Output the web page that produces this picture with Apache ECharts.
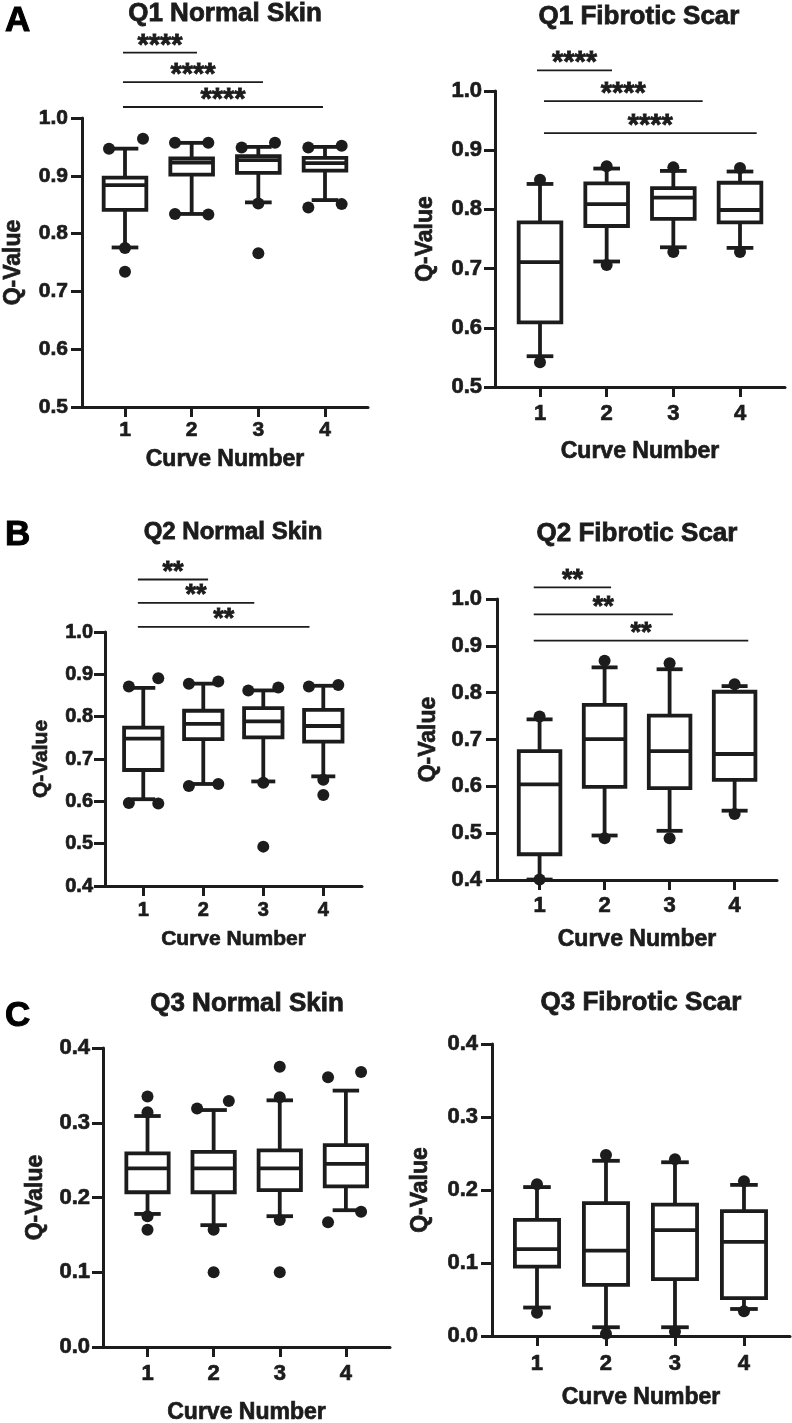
<!DOCTYPE html>
<html><head><meta charset="utf-8">
<script src="https://cdn.jsdelivr.net/npm/echarts@6/dist/echarts.min.js"></script>
<style>html,body{margin:0;padding:0;background:#fff}#c{width:792px;height:1423px}</style>
</head><body><div id="c"></div>
<script>
// ---------- DATA ----------
const curveNumbers = [1, 2, 3, 4];
// box rows: [curve, lowerWhisker, Q1, median, Q3, upperWhisker]
const q1NormalBoxes = [
  [1, 0.776, 0.841, 0.884, 0.897, 0.947],
  [2, 0.834, 0.902, 0.923, 0.930, 0.957],
  [3, 0.854, 0.905, 0.927, 0.934, 0.950],
  [4, 0.858, 0.909, 0.922, 0.931, 0.950]
];
const q1NormalDots = [[0.76,0.947],[1.27,0.964],[1,0.775],[1,0.734],[1.75,0.957],[2.25,0.957],[1.75,0.834],[2.25,0.833],
  [2.75,0.949],[3.25,0.957],[3,0.852],[3,0.766],[3.75,0.949],[4.25,0.952],[3.75,0.845],[4.25,0.851]];
const q1NormalSig = [[0.97,2.08,1.113],[0.97,3.07,1.062],[0.97,3.97,1.019]];
const q1NormalStars = ['****','****','****'];

const q1ScarBoxes = [
  [1, 0.552, 0.609, 0.711, 0.778, 0.843],
  [2, 0.712, 0.772, 0.809, 0.844, 0.869],
  [3, 0.736, 0.784, 0.820, 0.836, 0.865],
  [4, 0.735, 0.778, 0.799, 0.845, 0.864]
];
const q1ScarDots = [[1,0.850],[1,0.542],[2,0.873],[2,0.706],[3,0.871],[3,0.728],[4,0.870],[4,0.728]];
const q1ScarSig = [[0.955,2.08,1.035],[1.06,3.44,0.983],[1.06,4.25,0.929]];
const q1ScarStars = ['****','****','****'];

const q2NormalBoxes = [
  [1, 0.605, 0.674, 0.748, 0.774, 0.868],
  [2, 0.641, 0.747, 0.783, 0.814, 0.878],
  [3, 0.647, 0.751, 0.789, 0.820, 0.862],
  [4, 0.659, 0.741, 0.778, 0.816, 0.873]
];
const q2NormalDots = [[0.76,0.871],[1.25,0.891],[0.76,0.596],[1.25,0.595],[1.76,0.878],[2.25,0.883],[1.76,0.636],[2.25,0.641],
  [2.75,0.862],[3.25,0.869],[3,0.644],[3,0.493],[3.76,0.871],[4.25,0.875],[4,0.651],[4,0.615]];
const q2NormalSig = [[0.91,2.08,1.124],[0.91,2.85,1.069],[0.91,3.77,1.012]];
const q2NormalStars = ['**','**','**'];

const q2ScarBoxes = [
  [1, 0.401, 0.455, 0.604, 0.675, 0.743],
  [2, 0.495, 0.599, 0.701, 0.774, 0.854],
  [3, 0.505, 0.596, 0.675, 0.751, 0.850],
  [4, 0.548, 0.614, 0.669, 0.802, 0.814]
];
const q2ScarDots = [[1,0.749],[1,0.401],[2,0.868],[2,0.489],[3,0.863],[3,0.489],[4,0.818],[4,0.541]];
const q2ScarSig = [[0.91,2.10,1.025],[0.91,3.05,0.967],[0.91,4.21,0.911]];
const q2ScarStars = ['**','**','**'];

const q3NormalBoxes = [
  [1, 0.178, 0.207, 0.239, 0.259, 0.309],
  [2, 0.163, 0.207, 0.239, 0.261, 0.317],
  [3, 0.175, 0.210, 0.239, 0.263, 0.330],
  [4, 0.183, 0.215, 0.245, 0.270, 0.343]
];
const q3NormalDots = [[1,0.314],[1,0.335],[1,0.175],[1,0.157],[1.75,0.319],[2.23,0.329],[2,0.157],[2,0.100],
  [3,0.334],[3,0.375],[3,0.170],[3,0.100],[3.73,0.361],[4.23,0.368],[3.73,0.167],[4.23,0.181]];

const q3ScarBoxes = [
  [1, 0.039, 0.095, 0.119, 0.159, 0.204],
  [2, 0.012, 0.070, 0.117, 0.182, 0.240],
  [3, 0.012, 0.078, 0.145, 0.180, 0.238],
  [4, 0.037, 0.052, 0.129, 0.171, 0.207]
];
const q3ScarDots = [[1,0.208],[1,0.032],[2,0.248],[2,0.003],[3,0.242],[3,0.006],[4,0.212],[4,0.034]];

const panelTitles = ['Q1 Normal Skin','Q1 Fibrotic Scar','Q2 Normal Skin','Q2 Fibrotic Scar','Q3 Normal Skin','Q3 Fibrotic Scar'];
const panelLetters = ['A','B','C'];
const xAxisTitle = 'Curve Number';
const yAxisTitle = 'Q-Value';

// ---------- LAYOUT ----------
const INK = '#1c1c1c';
const FONT = '"Liberation Sans", Arial, Helvetica, sans-serif';
const HEAVY = {textBorderColor: INK, textBorderWidth: 0.7};
const panels = [
  {boxes:q1NormalBoxes, dots:q1NormalDots, sig:q1NormalSig, stars:q1NormalStars, starSize:29,
   grid:{left:82,top:118,width:286,height:289}, x:[0.355,4.645], y:[0.5,1.0],
   title:[225,14,26], yGap:57, xGap:41, nameSize:23, labelSize:21, xMargin:13, yMargin:14},
  {boxes:q1ScarBoxes, dots:q1ScarDots, sig:q1ScarSig, stars:q1ScarStars, starSize:29,
   grid:{left:495,top:91,width:290,height:296}, x:[0.325,4.675], y:[0.5,1.0],
   title:[639,17,26], yGap:58, xGap:53, nameSize:23, labelSize:22, xMargin:16, yMargin:13},
  {boxes:q2NormalBoxes, dots:q2NormalDots, sig:q2NormalSig, stars:q2NormalStars, starSize:27,
   grid:{left:105,top:632,width:257,height:254}, x:[0.362,4.645], y:[0.4,1.0],
   title:[233,532,24], yGap:53, xGap:43, nameSize:21, labelSize:20, xMargin:14, yMargin:12},
  {boxes:q2ScarBoxes, dots:q2ScarDots, sig:q2ScarSig, stars:q2ScarStars, starSize:27,
   grid:{left:497,top:599,width:280,height:281}, x:[0.345,4.652], y:[0.4,1.0],
   title:[637,534,26], yGap:57, xGap:48, nameSize:23, labelSize:22, xMargin:15, yMargin:15},
  {boxes:q3NormalBoxes, dots:q3NormalDots, sig:[], stars:[], starSize:26,
   grid:{left:103,top:1048,width:287,height:299}, x:[0.327,4.667], y:[0,0.4],
   title:[247,1004,26], yGap:56, xGap:54, nameSize:23, labelSize:22, xMargin:16, yMargin:13},
  {boxes:q3ScarBoxes, dots:q3ScarDots, sig:[], stars:[], starSize:26,
   grid:{left:492,top:1044,width:298,height:292}, x:[0.348,4.667], y:[0,0.4],
   title:[641,1003,26], yGap:60, xGap:50, nameSize:23, labelSize:22, xMargin:17, yMargin:14}
];
const letterPos = [[5,21],[5,535],[5,1016]];

const chart = echarts.init(document.getElementById('c'), null, {renderer:'canvas'});
const grids = [], xAxes = [], yAxes = [], series = [], graphics = [];

function boxRender(params, api) {
  const x = api.value(0);
  const lo = api.coord([x, api.value(1)]);
  const q1 = api.coord([x, api.value(2)]);
  const md = api.coord([x, api.value(3)]);
  const q3 = api.coord([x, api.value(4)]);
  const hi = api.coord([x, api.value(5)]);
  const unit = api.size([1, 0])[0];
  const bw = unit * 0.32, cw = unit * 0.2, cx = md[0];
  const st = {stroke: INK, lineWidth: 3.8, fill: null};
  return {type:'group', children:[
    {type:'line', shape:{x1:cx,y1:hi[1],x2:cx,y2:q3[1]}, style:st},
    {type:'line', shape:{x1:cx,y1:q1[1],x2:cx,y2:lo[1]}, style:st},
    {type:'line', shape:{x1:cx-cw,y1:hi[1],x2:cx+cw,y2:hi[1]}, style:st},
    {type:'line', shape:{x1:cx-cw,y1:lo[1],x2:cx+cw,y2:lo[1]}, style:st},
    {type:'rect', shape:{x:cx-bw,y:q3[1],width:2*bw,height:q1[1]-q3[1]}, style:{stroke:INK,lineWidth:3.8,fill:'#fff'}},
    {type:'line', shape:{x1:cx-bw,y1:md[1],x2:cx+bw,y2:md[1]}, style:st}
  ]};
}

panels.forEach((p, i) => {
  grids.push(Object.assign({outerBoundsMode:'none', containLabel:false}, p.grid));
  xAxes.push({
    type:'value', gridIndex:i, min:p.x[0], max:p.x[1],
    name:xAxisTitle, nameLocation:'middle', nameGap:p.xGap,
    nameTextStyle:Object.assign({fontFamily:FONT, fontWeight:'bold', fontSize:p.nameSize, color:INK}, HEAVY),
    axisLine:{show:true, onZero:false, lineStyle:{color:INK, width:3}},
    axisTick:{show:true, length:10, lineStyle:{color:INK, width:3}, customValues:curveNumbers},
    axisLabel:Object.assign({show:true, customValues:curveNumbers, margin:p.xMargin, fontFamily:FONT, fontWeight:'bold', fontSize:p.labelSize, color:INK,
      formatter: v => String(v)}, HEAVY),
    splitLine:{show:false}
  });
  yAxes.push({
    type:'value', gridIndex:i, min:p.y[0], max:p.y[1], interval:0.1,
    name:yAxisTitle, nameLocation:'middle', nameGap:p.yGap, nameRotate:90,
    nameTextStyle:Object.assign({fontFamily:FONT, fontWeight:'bold', fontSize:p.nameSize, color:INK}, HEAVY),
    axisLine:{show:true, onZero:false, lineStyle:{color:INK, width:3}},
    axisTick:{show:true, length:11, lineStyle:{color:INK, width:3}},
    axisLabel:Object.assign({margin:p.yMargin, fontFamily:FONT, fontWeight:'bold', fontSize:p.labelSize, color:INK,
      formatter: v => v.toFixed(1)}, HEAVY),
    splitLine:{show:false}
  });
  series.push({
    type:'custom', xAxisIndex:i, yAxisIndex:i, data:p.boxes, renderItem:boxRender,
    encode:{x:0, y:[1,2,3,4,5]}, clip:false, silent:true, z:2
  });
  series.push({
    type:'scatter', xAxisIndex:i, yAxisIndex:i, data:p.dots, symbol:'circle', symbolSize:12,
    itemStyle:{color:INK, opacity:1}, silent:true, z:3, clip:false
  });
  if (p.sig.length) {
    const stars = p.stars, sz = p.starSize;
    series.push({
      type:'custom', xAxisIndex:i, yAxisIndex:i, data:p.sig, clip:false, silent:true, z:4,
      encode:{x:[0,1], y:2},
      renderItem:(params, api) => {
        const a = api.coord([api.value(0), api.value(2)]);
        const b = api.coord([api.value(1), api.value(2)]);
        return {type:'group', children:[
          {type:'line', shape:{x1:a[0],y1:a[1],x2:b[0],y2:b[1]}, style:{stroke:INK, lineWidth:1.8}},
          {type:'text', style:{text:stars[params.dataIndex], x:(a[0]+b[0])/2, y:a[1]-7,
            align:'center', verticalAlign:'middle', fontFamily:FONT, fontWeight:'bold', fontSize:sz, fill:INK,
            stroke:INK, lineWidth:0.8}}
        ]};
      }
    });
  }
  graphics.push({type:'text', x:p.title[0], y:p.title[1], silent:true,
    style:{text:panelTitles[i], align:'center', verticalAlign:'middle', fontFamily:FONT, fontWeight:'bold', fontSize:p.title[2], fill:INK,
      stroke:INK, lineWidth:0.8}});
});
panelLetters.forEach((L, k) => {
  graphics.push({type:'text', x:letterPos[k][0], y:letterPos[k][1], silent:true,
    style:{text:L, align:'left', verticalAlign:'middle', fontFamily:FONT, fontWeight:'bold', fontSize:35, fill:'#000',
      stroke:'#000', lineWidth:1}});
});

chart.setOption({
  animation:false,
  backgroundColor:'#fff',
  grid:grids, xAxis:xAxes, yAxis:yAxes, series:series, graphic:graphics
});
</script></body></html>
